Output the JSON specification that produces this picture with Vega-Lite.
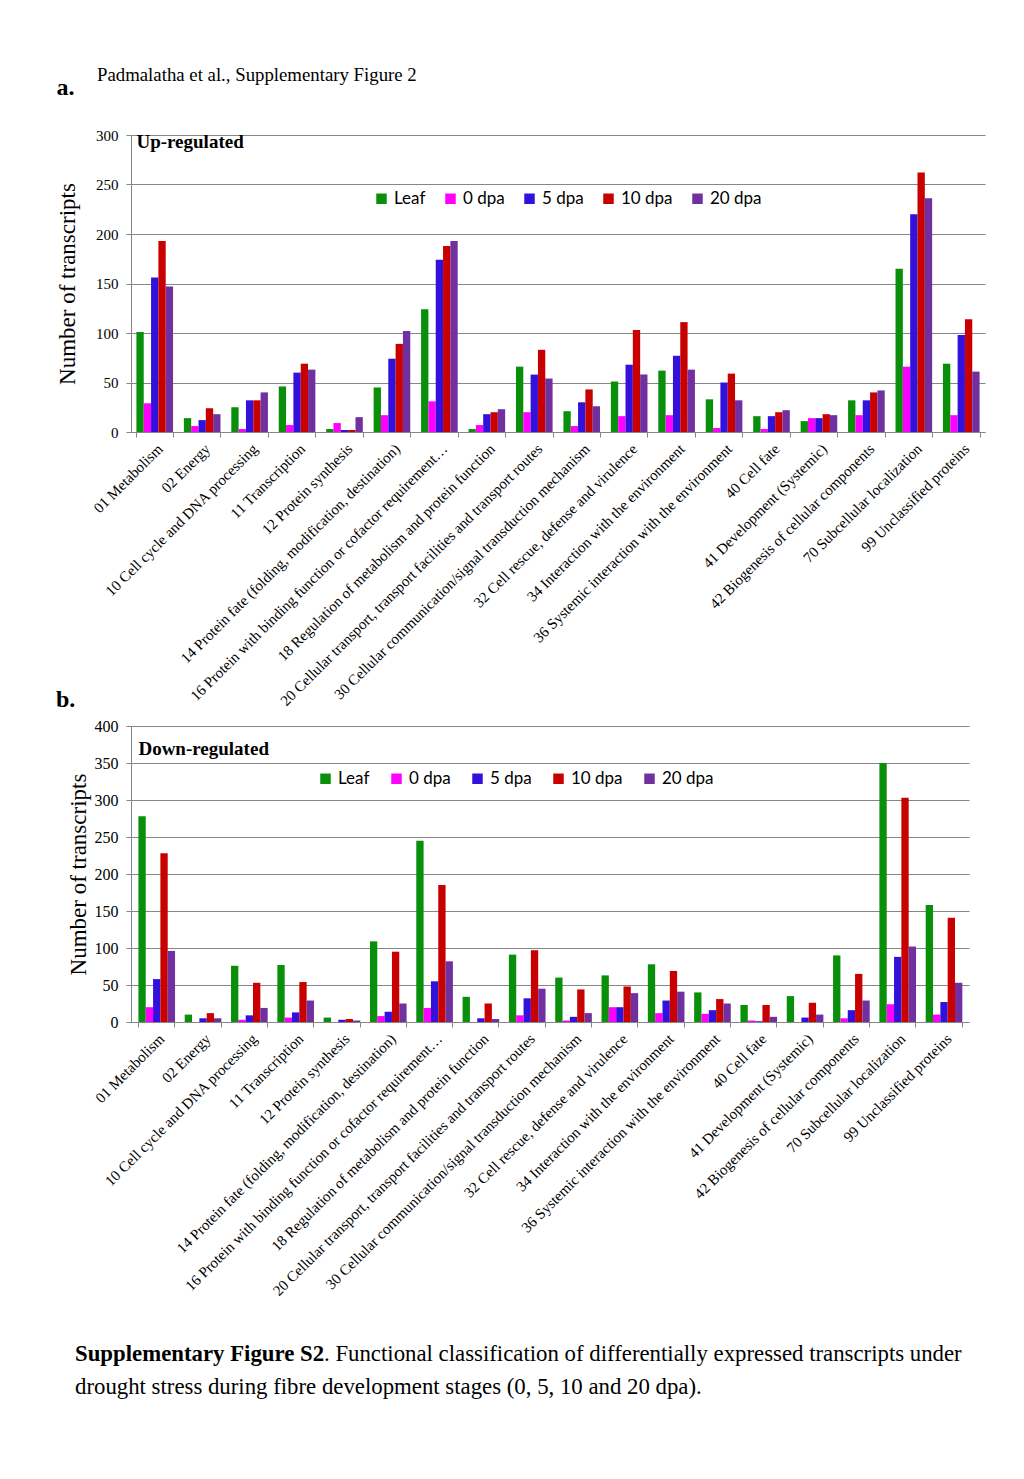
{
 "$schema": "https://vega.github.io/schema/vega-lite/v6.json",
 "background": "white",
 "padding": {"left": 56, "top": 66, "right": 5, "bottom": 5},
 "title": {"text": "Padmalatha et al., Supplementary Figure 2", "anchor": "start", "frame": "bounds", "font": "Liberation Serif", "fontSize": 18.8, "fontWeight": "normal", "color": "black", "dx": 41, "offset": -9},
 "config": {
  "view": {"stroke": null},
  "axis": {"domainColor": "#868686", "tickColor": "#868686", "gridColor": "#868686", "labelColor": "black", "titleColor": "black", "labelFont": "Liberation Serif", "titleFont": "Liberation Serif"}
 },
 "datasets": {
  "up": [
   {"c":"01 Metabolism","s":"Leaf","n":101},{"c":"01 Metabolism","s":"0 dpa","n":29},{"c":"01 Metabolism","s":"5 dpa","n":156},{"c":"01 Metabolism","s":"10 dpa","n":193},{"c":"01 Metabolism","s":"20 dpa","n":147},
   {"c":"02 Energy","s":"Leaf","n":14},{"c":"02 Energy","s":"0 dpa","n":6},{"c":"02 Energy","s":"5 dpa","n":12},{"c":"02 Energy","s":"10 dpa","n":24},{"c":"02 Energy","s":"20 dpa","n":18},
   {"c":"10 Cell cycle and DNA processing","s":"Leaf","n":25},{"c":"10 Cell cycle and DNA processing","s":"0 dpa","n":3},{"c":"10 Cell cycle and DNA processing","s":"5 dpa","n":32},{"c":"10 Cell cycle and DNA processing","s":"10 dpa","n":32},{"c":"10 Cell cycle and DNA processing","s":"20 dpa","n":40},
   {"c":"11 Transcription","s":"Leaf","n":46},{"c":"11 Transcription","s":"0 dpa","n":7},{"c":"11 Transcription","s":"5 dpa","n":60},{"c":"11 Transcription","s":"10 dpa","n":69},{"c":"11 Transcription","s":"20 dpa","n":63},
   {"c":"12 Protein synthesis","s":"Leaf","n":3},{"c":"12 Protein synthesis","s":"0 dpa","n":9},{"c":"12 Protein synthesis","s":"5 dpa","n":2},{"c":"12 Protein synthesis","s":"10 dpa","n":2},{"c":"12 Protein synthesis","s":"20 dpa","n":15},
   {"c":"14 Protein fate (folding, modification, destination)","s":"Leaf","n":45},{"c":"14 Protein fate (folding, modification, destination)","s":"0 dpa","n":17},{"c":"14 Protein fate (folding, modification, destination)","s":"5 dpa","n":74},{"c":"14 Protein fate (folding, modification, destination)","s":"10 dpa","n":89},{"c":"14 Protein fate (folding, modification, destination)","s":"20 dpa","n":102},
   {"c":"16 Protein with binding function or cofactor requirement…","s":"Leaf","n":124},{"c":"16 Protein with binding function or cofactor requirement…","s":"0 dpa","n":31},{"c":"16 Protein with binding function or cofactor requirement…","s":"5 dpa","n":174},{"c":"16 Protein with binding function or cofactor requirement…","s":"10 dpa","n":188},{"c":"16 Protein with binding function or cofactor requirement…","s":"20 dpa","n":193},
   {"c":"18 Regulation of metabolism and protein function","s":"Leaf","n":3},{"c":"18 Regulation of metabolism and protein function","s":"0 dpa","n":7},{"c":"18 Regulation of metabolism and protein function","s":"5 dpa","n":18},{"c":"18 Regulation of metabolism and protein function","s":"10 dpa","n":20},{"c":"18 Regulation of metabolism and protein function","s":"20 dpa","n":23},
   {"c":"20 Cellular transport, transport facilities and transport routes","s":"Leaf","n":66},{"c":"20 Cellular transport, transport facilities and transport routes","s":"0 dpa","n":20},{"c":"20 Cellular transport, transport facilities and transport routes","s":"5 dpa","n":58},{"c":"20 Cellular transport, transport facilities and transport routes","s":"10 dpa","n":83},{"c":"20 Cellular transport, transport facilities and transport routes","s":"20 dpa","n":54},
   {"c":"30 Cellular communication/signal transduction mechanism","s":"Leaf","n":21},{"c":"30 Cellular communication/signal transduction mechanism","s":"0 dpa","n":6},{"c":"30 Cellular communication/signal transduction mechanism","s":"5 dpa","n":30},{"c":"30 Cellular communication/signal transduction mechanism","s":"10 dpa","n":43},{"c":"30 Cellular communication/signal transduction mechanism","s":"20 dpa","n":26},
   {"c":"32 Cell rescue, defense and virulence","s":"Leaf","n":51},{"c":"32 Cell rescue, defense and virulence","s":"0 dpa","n":16},{"c":"32 Cell rescue, defense and virulence","s":"5 dpa","n":68},{"c":"32 Cell rescue, defense and virulence","s":"10 dpa","n":103},{"c":"32 Cell rescue, defense and virulence","s":"20 dpa","n":58},
   {"c":"34 Interaction with the environment","s":"Leaf","n":62},{"c":"34 Interaction with the environment","s":"0 dpa","n":17},{"c":"34 Interaction with the environment","s":"5 dpa","n":77},{"c":"34 Interaction with the environment","s":"10 dpa","n":111},{"c":"34 Interaction with the environment","s":"20 dpa","n":63},
   {"c":"36 Systemic interaction with the environment","s":"Leaf","n":33},{"c":"36 Systemic interaction with the environment","s":"0 dpa","n":4},{"c":"36 Systemic interaction with the environment","s":"5 dpa","n":50},{"c":"36 Systemic interaction with the environment","s":"10 dpa","n":59},{"c":"36 Systemic interaction with the environment","s":"20 dpa","n":32},
   {"c":"40 Cell fate","s":"Leaf","n":16},{"c":"40 Cell fate","s":"0 dpa","n":3},{"c":"40 Cell fate","s":"5 dpa","n":16},{"c":"40 Cell fate","s":"10 dpa","n":20},{"c":"40 Cell fate","s":"20 dpa","n":22},
   {"c":"41 Development (Systemic)","s":"Leaf","n":11},{"c":"41 Development (Systemic)","s":"0 dpa","n":14},{"c":"41 Development (Systemic)","s":"5 dpa","n":14},{"c":"41 Development (Systemic)","s":"10 dpa","n":18},{"c":"41 Development (Systemic)","s":"20 dpa","n":17},
   {"c":"42 Biogenesis of cellular components","s":"Leaf","n":32},{"c":"42 Biogenesis of cellular components","s":"0 dpa","n":17},{"c":"42 Biogenesis of cellular components","s":"5 dpa","n":32},{"c":"42 Biogenesis of cellular components","s":"10 dpa","n":40},{"c":"42 Biogenesis of cellular components","s":"20 dpa","n":42},
   {"c":"70 Subcellular localization","s":"Leaf","n":165},{"c":"70 Subcellular localization","s":"0 dpa","n":66},{"c":"70 Subcellular localization","s":"5 dpa","n":220},{"c":"70 Subcellular localization","s":"10 dpa","n":262},{"c":"70 Subcellular localization","s":"20 dpa","n":236},
   {"c":"99 Unclassified proteins","s":"Leaf","n":69},{"c":"99 Unclassified proteins","s":"0 dpa","n":17},{"c":"99 Unclassified proteins","s":"5 dpa","n":98},{"c":"99 Unclassified proteins","s":"10 dpa","n":114},{"c":"99 Unclassified proteins","s":"20 dpa","n":61}
  ],
  "down": [
   {"c":"01 Metabolism","s":"Leaf","n":278},{"c":"01 Metabolism","s":"0 dpa","n":20},{"c":"01 Metabolism","s":"5 dpa","n":58},{"c":"01 Metabolism","s":"10 dpa","n":228},{"c":"01 Metabolism","s":"20 dpa","n":96},
   {"c":"02 Energy","s":"Leaf","n":10},{"c":"02 Energy","s":"0 dpa","n":0},{"c":"02 Energy","s":"5 dpa","n":5},{"c":"02 Energy","s":"10 dpa","n":12},{"c":"02 Energy","s":"20 dpa","n":5},
   {"c":"10 Cell cycle and DNA processing","s":"Leaf","n":76},{"c":"10 Cell cycle and DNA processing","s":"0 dpa","n":3},{"c":"10 Cell cycle and DNA processing","s":"5 dpa","n":9},{"c":"10 Cell cycle and DNA processing","s":"10 dpa","n":53},{"c":"10 Cell cycle and DNA processing","s":"20 dpa","n":19},
   {"c":"11 Transcription","s":"Leaf","n":77},{"c":"11 Transcription","s":"0 dpa","n":6},{"c":"11 Transcription","s":"5 dpa","n":13},{"c":"11 Transcription","s":"10 dpa","n":54},{"c":"11 Transcription","s":"20 dpa","n":29},
   {"c":"12 Protein synthesis","s":"Leaf","n":6},{"c":"12 Protein synthesis","s":"0 dpa","n":0},{"c":"12 Protein synthesis","s":"5 dpa","n":3},{"c":"12 Protein synthesis","s":"10 dpa","n":4},{"c":"12 Protein synthesis","s":"20 dpa","n":2},
   {"c":"14 Protein fate (folding, modification, destination)","s":"Leaf","n":109},{"c":"14 Protein fate (folding, modification, destination)","s":"0 dpa","n":8},{"c":"14 Protein fate (folding, modification, destination)","s":"5 dpa","n":14},{"c":"14 Protein fate (folding, modification, destination)","s":"10 dpa","n":95},{"c":"14 Protein fate (folding, modification, destination)","s":"20 dpa","n":25},
   {"c":"16 Protein with binding function or cofactor requirement…","s":"Leaf","n":245},{"c":"16 Protein with binding function or cofactor requirement…","s":"0 dpa","n":19},{"c":"16 Protein with binding function or cofactor requirement…","s":"5 dpa","n":55},{"c":"16 Protein with binding function or cofactor requirement…","s":"10 dpa","n":185},{"c":"16 Protein with binding function or cofactor requirement…","s":"20 dpa","n":82},
   {"c":"18 Regulation of metabolism and protein function","s":"Leaf","n":34},{"c":"18 Regulation of metabolism and protein function","s":"0 dpa","n":0},{"c":"18 Regulation of metabolism and protein function","s":"5 dpa","n":5},{"c":"18 Regulation of metabolism and protein function","s":"10 dpa","n":25},{"c":"18 Regulation of metabolism and protein function","s":"20 dpa","n":4},
   {"c":"20 Cellular transport, transport facilities and transport routes","s":"Leaf","n":91},{"c":"20 Cellular transport, transport facilities and transport routes","s":"0 dpa","n":9},{"c":"20 Cellular transport, transport facilities and transport routes","s":"5 dpa","n":32},{"c":"20 Cellular transport, transport facilities and transport routes","s":"10 dpa","n":97},{"c":"20 Cellular transport, transport facilities and transport routes","s":"20 dpa","n":45},
   {"c":"30 Cellular communication/signal transduction mechanism","s":"Leaf","n":60},{"c":"30 Cellular communication/signal transduction mechanism","s":"0 dpa","n":2},{"c":"30 Cellular communication/signal transduction mechanism","s":"5 dpa","n":7},{"c":"30 Cellular communication/signal transduction mechanism","s":"10 dpa","n":44},{"c":"30 Cellular communication/signal transduction mechanism","s":"20 dpa","n":12},
   {"c":"32 Cell rescue, defense and virulence","s":"Leaf","n":63},{"c":"32 Cell rescue, defense and virulence","s":"0 dpa","n":20},{"c":"32 Cell rescue, defense and virulence","s":"5 dpa","n":20},{"c":"32 Cell rescue, defense and virulence","s":"10 dpa","n":48},{"c":"32 Cell rescue, defense and virulence","s":"20 dpa","n":39},
   {"c":"34 Interaction with the environment","s":"Leaf","n":78},{"c":"34 Interaction with the environment","s":"0 dpa","n":12},{"c":"34 Interaction with the environment","s":"5 dpa","n":29},{"c":"34 Interaction with the environment","s":"10 dpa","n":69},{"c":"34 Interaction with the environment","s":"20 dpa","n":41},
   {"c":"36 Systemic interaction with the environment","s":"Leaf","n":40},{"c":"36 Systemic interaction with the environment","s":"0 dpa","n":11},{"c":"36 Systemic interaction with the environment","s":"5 dpa","n":16},{"c":"36 Systemic interaction with the environment","s":"10 dpa","n":31},{"c":"36 Systemic interaction with the environment","s":"20 dpa","n":25},
   {"c":"40 Cell fate","s":"Leaf","n":23},{"c":"40 Cell fate","s":"0 dpa","n":2},{"c":"40 Cell fate","s":"5 dpa","n":1},{"c":"40 Cell fate","s":"10 dpa","n":23},{"c":"40 Cell fate","s":"20 dpa","n":7},
   {"c":"41 Development (Systemic)","s":"Leaf","n":35},{"c":"41 Development (Systemic)","s":"0 dpa","n":0},{"c":"41 Development (Systemic)","s":"5 dpa","n":6},{"c":"41 Development (Systemic)","s":"10 dpa","n":26},{"c":"41 Development (Systemic)","s":"20 dpa","n":10},
   {"c":"42 Biogenesis of cellular components","s":"Leaf","n":90},{"c":"42 Biogenesis of cellular components","s":"0 dpa","n":5},{"c":"42 Biogenesis of cellular components","s":"5 dpa","n":16},{"c":"42 Biogenesis of cellular components","s":"10 dpa","n":65},{"c":"42 Biogenesis of cellular components","s":"20 dpa","n":29},
   {"c":"70 Subcellular localization","s":"Leaf","n":350},{"c":"70 Subcellular localization","s":"0 dpa","n":24},{"c":"70 Subcellular localization","s":"5 dpa","n":88},{"c":"70 Subcellular localization","s":"10 dpa","n":303},{"c":"70 Subcellular localization","s":"20 dpa","n":102},
   {"c":"99 Unclassified proteins","s":"Leaf","n":158},{"c":"99 Unclassified proteins","s":"0 dpa","n":10},{"c":"99 Unclassified proteins","s":"5 dpa","n":27},{"c":"99 Unclassified proteins","s":"10 dpa","n":141},{"c":"99 Unclassified proteins","s":"20 dpa","n":53}
  ]
 },
 "spacing": 38,
 "vconcat": [
  {
   "spacing": -21,
   "resolve": {"legend": {"color": "independent"}},
   "vconcat": [
    {
     "width": 854, "height": 297,
     "title": {"text": "a.", "anchor": "start", "frame": "bounds", "font": "Liberation Serif", "fontSize": 24, "fontWeight": "bold", "color": "black", "offset": 28},
     "data": {"name": "up"},
     "resolve": {"scale": {"y": "independent"}, "axis": {"y": "independent"}},
     "layer": [
      {
       "mark": {"type": "bar"},
       "encoding": {
        "x": {"field": "c", "type": "nominal", "sort": null, "scale": {"paddingInner": 0.228, "paddingOuter": 0.114},
              "axis": {"title": null, "labelAngle": -45, "labelFontSize": 15, "labelLimit": 600, "tickBand": "extent", "tickSize": 5, "labelPadding": 4}},
        "xOffset": {"field": "s", "type": "nominal", "sort": ["Leaf", "0 dpa", "5 dpa", "10 dpa", "20 dpa"], "scale": {"paddingInner": 0, "paddingOuter": 0}},
        "y": {"field": "n", "type": "quantitative", "scale": {"domain": [0, 300]},
              "axis": {"title": "Number of transcripts", "titleFontSize": 23, "titleFontWeight": "normal", "titlePadding": 16, "values": [0, 50, 100, 150, 200, 250, 300], "labelOverlap": false, "labelFontSize": 15, "tickSize": 5, "labelPadding": 8}},
        "color": {"field": "s", "type": "nominal", "sort": ["Leaf", "0 dpa", "5 dpa", "10 dpa", "20 dpa"],
                  "scale": {"domain": ["Leaf", "0 dpa", "5 dpa", "10 dpa", "20 dpa"], "range": ["#0A8F0A", "#FF00FF", "#3311DD", "#C80000", "#7030A0"]},
                  "legend": {"title": null, "orient": "none", "legendX": 242, "legendY": 55, "direction": "horizontal", "symbolType": "square", "symbolSize": 110, "symbolStrokeWidth": 0, "labelFont": "Lato", "labelFontSize": 17, "labelColor": "black", "columnPadding": 16, "labelOffset": 4}}
       }
      },
      {
       "data": {"values": [{"label": "Up-regulated"}]},
       "mark": {"type": "text", "align": "left", "baseline": "top", "font": "Liberation Serif", "fontSize": 19, "fontWeight": "bold", "dy": -2, "color": "black"},
       "encoding": {
        "x": {"datum": "01 Metabolism", "type": "nominal", "bandPosition": 0},
        "y": {"datum": 300, "type": "quantitative", "scale": {"domain": [0, 300]}, "axis": null},
        "text": {"field": "label"}
       }
      }
     ]
    },
    {
     "width": 838, "height": 296,
     "title": {"text": "b.", "anchor": "start", "frame": "bounds", "font": "Liberation Serif", "fontSize": 24, "fontWeight": "bold", "color": "black", "offset": 6, "dx": -11},
     "data": {"name": "down"},
     "resolve": {"scale": {"y": "independent"}, "axis": {"y": "independent"}},
     "layer": [
      {
       "mark": {"type": "bar"},
       "encoding": {
        "x": {"field": "c", "type": "nominal", "sort": null, "scale": {"paddingInner": 0.225, "paddingOuter": 0.16},
              "axis": {"title": null, "labelAngle": -45, "labelFontSize": 15, "labelLimit": 600, "tickBand": "extent", "tickSize": 5, "labelPadding": 4}},
        "xOffset": {"field": "s", "type": "nominal", "sort": ["Leaf", "0 dpa", "5 dpa", "10 dpa", "20 dpa"], "scale": {"paddingInner": 0, "paddingOuter": 0}},
        "y": {"field": "n", "type": "quantitative", "scale": {"domain": [0, 400]},
              "axis": {"title": "Number of transcripts", "titleFontSize": 23, "titleFontWeight": "normal", "titlePadding": 4, "values": [0, 50, 100, 150, 200, 250, 300, 350, 400], "labelOverlap": false, "labelFontSize": 16, "tickSize": 5, "labelPadding": 8}},
        "color": {"field": "s", "type": "nominal", "sort": ["Leaf", "0 dpa", "5 dpa", "10 dpa", "20 dpa"],
                  "scale": {"domain": ["Leaf", "0 dpa", "5 dpa", "10 dpa", "20 dpa"], "range": ["#0A8F0A", "#FF00FF", "#3311DD", "#C80000", "#7030A0"]},
                  "legend": {"title": null, "orient": "none", "legendX": 186, "legendY": 44, "direction": "horizontal", "symbolType": "square", "symbolSize": 110, "symbolStrokeWidth": 0, "labelFont": "Lato", "labelFontSize": 17, "labelColor": "black", "columnPadding": 18, "labelOffset": 4}}
       }
      },
      {
       "data": {"values": [{"label": "Down-regulated"}]},
       "mark": {"type": "text", "align": "left", "baseline": "top", "font": "Liberation Serif", "fontSize": 19, "fontWeight": "bold", "dy": 14, "color": "black"},
       "encoding": {
        "x": {"datum": "01 Metabolism", "type": "nominal", "bandPosition": 0},
        "y": {"datum": 400, "type": "quantitative", "scale": {"domain": [0, 400]}, "axis": null},
        "text": {"field": "label"}
       }
      }
     ]
    }
   ]
  },
  {
   "width": 900, "height": 66,
   "data": {"values": [
    {"line": 1, "w": "b", "t": "Supplementary Figure S2"},
    {"line": 1, "w": "n1", "t": ". Functional classification of differentially expressed transcripts under"},
    {"line": 2, "w": "n2", "t": "drought stress during fibre development stages (0, 5, 10 and 20 dpa)."}
   ]},
   "encoding": {
    "x": {"datum": 0, "type": "quantitative", "scale": {"domain": [0, 1]}, "axis": null},
    "y": {"field": "line", "type": "ordinal", "axis": null, "scale": {"type": "point", "padding": 0.5}},
    "text": {"field": "t"}
   },
   "layer": [
    {"transform": [{"filter": "datum.w == 'b'"}], "mark": {"type": "text", "align": "left", "baseline": "middle", "font": "Liberation Serif", "fontSize": 22.8, "fontWeight": "bold", "color": "black", "dx": -56}},
    {"transform": [{"filter": "datum.w == 'n1'"}], "mark": {"type": "text", "align": "left", "baseline": "middle", "font": "Liberation Serif", "fontSize": 22.8, "fontWeight": "normal", "color": "black", "dx": 193}},
    {"transform": [{"filter": "datum.w == 'n2'"}], "mark": {"type": "text", "align": "left", "baseline": "middle", "font": "Liberation Serif", "fontSize": 22.8, "fontWeight": "normal", "color": "black", "dx": -56}}
   ]
  }
 ]
}
